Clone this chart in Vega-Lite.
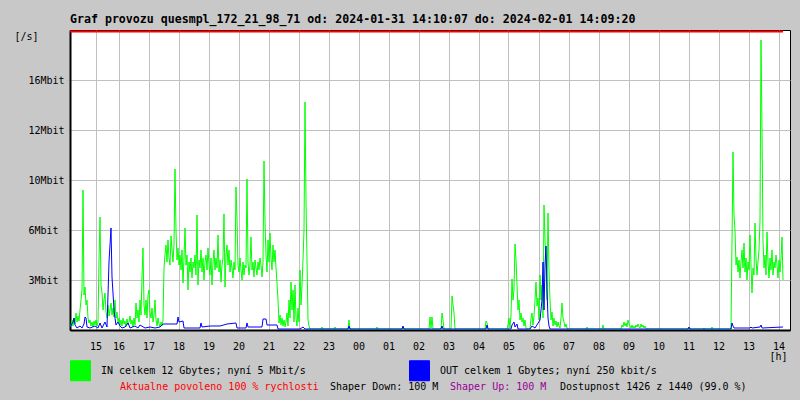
{
"$schema": "https://vega.github.io/schema/vega-lite/v6.json",
"width": 720, "height": 300,
"autosize": {"type": "none"},
"padding": {"left": 70, "top": 30, "right": 10, "bottom": 70},
"background": "#c8c8c8",
"config": {
  "view": {"fill": "white", "stroke": "black", "strokeWidth": 1},
  "font": "DejaVu Sans Mono",
  "axis": {"labelFont": "DejaVu Sans Mono", "labelFontSize": 10, "labelColor": "black", "titleFont": "DejaVu Sans Mono", "titleFontSize": 10, "titleFontWeight": "normal", "titleColor": "black", "gridColor": "#c0c0c0", "gridOpacity": 1, "gridWidth": 1, "domainColor": "black", "domainWidth": 2},
  "axisX": {"labelOverlap": false, "labelFlush": false, "ticks": false, "labelPadding": 11, "tickCount": 100},
  "axisY": {"labelOverlap": false, "tickSize": 4, "tickColor": "#c0c0c0", "labelAlign": "left", "labelPadding": 38, "tickCount": 100}
},
"title": {"text": "Graf provozu quesmpl_172_21_98_71 od: 2024-01-31 14:10:07 do: 2024-02-01 14:09:20", "anchor": "start", "frame": "group", "font": "DejaVu Sans Mono", "fontSize": 11.6, "fontWeight": "bold", "color": "black", "offset": 7, "dy": 12, "baseline": "alphabetic"},
"datasets": {
"inb": [
{"t":23,"v":192},{"t":25,"v":320},{"t":27,"v":640},{"t":29,"v":256},{"t":31,"v":768},{"t":33,"v":384},{"t":35,"v":1088},{"t":37,"v":512},{"t":39,"v":896},{"t":41,"v":576},{"t":43,"v":1280},{"t":45,"v":1920},{"t":47,"v":2560},{"t":49,"v":8960},{"t":51,"v":2240},{"t":53,"v":2752},{"t":55,"v":1600},{"t":57,"v":1920},{"t":59,"v":768},{"t":61,"v":448},{"t":63,"v":640},{"t":65,"v":256},{"t":67,"v":512},{"t":69,"v":192},{"t":71,"v":576},{"t":73,"v":320},{"t":75,"v":640},{"t":77,"v":256},{"t":79,"v":512},{"t":81,"v":4480},{"t":83,"v":7232},{"t":85,"v":2880},{"t":87,"v":2368},{"t":89,"v":1280},{"t":91,"v":1920},{"t":93,"v":2368},{"t":95,"v":1152},{"t":97,"v":768},{"t":99,"v":1600},{"t":101,"v":896},{"t":103,"v":1280},{"t":105,"v":1728},{"t":107,"v":960},{"t":109,"v":1408},{"t":111,"v":832},{"t":113,"v":1920},{"t":115,"v":768},{"t":117,"v":1152},{"t":119,"v":512},{"t":121,"v":768},{"t":123,"v":320},{"t":125,"v":640},{"t":127,"v":256},{"t":129,"v":768},{"t":131,"v":384},{"t":133,"v":576},{"t":135,"v":192},{"t":137,"v":704},{"t":139,"v":320},{"t":141,"v":512},{"t":143,"v":896},{"t":145,"v":384},{"t":147,"v":640},{"t":149,"v":192},{"t":151,"v":768},{"t":153,"v":320},{"t":155,"v":1728},{"t":157,"v":768},{"t":159,"v":1280},{"t":161,"v":512},{"t":163,"v":1920},{"t":165,"v":960},{"t":167,"v":3392},{"t":169,"v":5248},{"t":171,"v":1600},{"t":173,"v":960},{"t":175,"v":1920},{"t":177,"v":768},{"t":179,"v":2240},{"t":181,"v":2560},{"t":183,"v":1152},{"t":185,"v":768},{"t":187,"v":1408},{"t":189,"v":512},{"t":191,"v":960},{"t":193,"v":1920},{"t":195,"v":640},{"t":197,"v":256},{"t":199,"v":768},{"t":201,"v":384},{"t":203,"v":192},{"t":205,"v":512},{"t":207,"v":256},{"t":209,"v":640},
{"t":211,"v":3968},{"t":213,"v":4800},{"t":215,"v":5440},{"t":217,"v":4352},{"t":219,"v":5760},{"t":221,"v":4608},{"t":223,"v":4160},{"t":225,"v":6016},{"t":227,"v":5120},{"t":229,"v":4352},{"t":231,"v":5440},{"t":233,"v":10304},{"t":235,"v":6400},{"t":237,"v":4480},{"t":239,"v":5248},{"t":241,"v":4160},{"t":243,"v":4800},{"t":245,"v":3840},{"t":247,"v":5120},{"t":249,"v":3008},{"t":251,"v":4608},{"t":253,"v":6528},{"t":255,"v":4160},{"t":257,"v":4800},{"t":259,"v":2560},{"t":261,"v":4352},{"t":263,"v":3712},{"t":265,"v":4608},{"t":267,"v":3328},{"t":269,"v":4352},{"t":271,"v":3968},{"t":273,"v":4800},{"t":275,"v":3520},{"t":277,"v":7360},{"t":279,"v":2880},{"t":281,"v":4480},{"t":283,"v":3968},{"t":285,"v":5120},{"t":287,"v":3712},{"t":289,"v":4608},{"t":291,"v":3200},{"t":293,"v":4352},{"t":295,"v":4800},{"t":297,"v":3840},{"t":299,"v":5248},{"t":301,"v":4160},{"t":303,"v":3520},{"t":305,"v":4608},{"t":307,"v":2880},{"t":309,"v":4352},{"t":311,"v":5120},{"t":313,"v":3840},{"t":315,"v":4608},{"t":317,"v":3968},{"t":319,"v":6080},{"t":321,"v":3712},{"t":323,"v":4480},{"t":325,"v":3072},{"t":327,"v":4160},{"t":329,"v":4608},{"t":331,"v":7424},{"t":333,"v":2752},{"t":335,"v":4800},{"t":337,"v":5440},{"t":339,"v":4160},{"t":341,"v":5120},{"t":343,"v":3712},{"t":345,"v":4480},{"t":347,"v":3968},{"t":349,"v":3328},{"t":351,"v":4352},{"t":353,"v":3840},{"t":355,"v":9152},{"t":357,"v":7104},{"t":359,"v":4160},{"t":361,"v":3712},{"t":363,"v":4608},{"t":365,"v":3840},{"t":367,"v":3200},{"t":369,"v":4352},{"t":371,"v":3520},{"t":373,"v":4160},{"t":375,"v":3968},{"t":377,"v":9664},{"t":379,"v":4352},{"t":381,"v":3520},{"t":383,"v":4160},{"t":385,"v":5952},{"t":387,"v":3840},{"t":389,"v":4352},{"t":391,"v":3392},{"t":393,"v":4480},{"t":395,"v":3968},{"t":397,"v":3520},{"t":399,"v":4352},{"t":401,"v":3840},{"t":403,"v":4608},{"t":405,"v":4160},{"t":407,"v":3392},{"t":409,"v":4352},{"t":411,"v":10816},{"t":413,"v":6912},{"t":415,"v":4800},{"t":417,"v":3712},{"t":419,"v":5760},{"t":421,"v":4352},{"t":423,"v":6208},{"t":425,"v":4608},{"t":427,"v":3840},{"t":429,"v":5440},{"t":431,"v":4352},{"t":433,"v":5120},{"t":435,"v":3968},{"t":437,"v":3008},{"t":439,"v":1920},
{"t":441,"v":448},{"t":443,"v":960},{"t":445,"v":320},{"t":447,"v":768},{"t":449,"v":256},{"t":451,"v":640},{"t":453,"v":192},{"t":455,"v":512},{"t":457,"v":1088},{"t":459,"v":256},{"t":461,"v":1920},{"t":463,"v":768},{"t":465,"v":3072},{"t":467,"v":1280},{"t":469,"v":2560},{"t":471,"v":512},{"t":473,"v":2880},{"t":475,"v":768},{"t":477,"v":256},{"t":479,"v":1408},{"t":481,"v":512},{"t":483,"v":3840},{"t":485,"v":1600},{"t":487,"v":2880},{"t":489,"v":4480},{"t":491,"v":6400},{"t":493,"v":14592},{"t":495,"v":8320},{"t":497,"v":4480},{"t":499,"v":640},{"t":501,"v":256},{"t":503,"v":64},
{"t":525,"v":64},{"t":527,"v":192},{"t":529,"v":64},{"t":551,"v":64},{"t":553,"v":192},{"t":555,"v":64},{"t":579,"v":64},{"t":581,"v":640},{"t":583,"v":64},{"t":635,"v":64},{"t":637,"v":192},{"t":639,"v":64},{"t":687,"v":64},{"t":689,"v":192},{"t":691,"v":64},{"t":741,"v":64},{"t":743,"v":832},{"t":745,"v":128},{"t":747,"v":832},{"t":749,"v":64},{"t":765,"v":64},{"t":767,"v":1088},{"t":769,"v":640},{"t":771,"v":64},{"t":785,"v":64},{"t":787,"v":2176},{"t":789,"v":1600},{"t":791,"v":1088},{"t":793,"v":64},{"t":853,"v":64},{"t":855,"v":576},{"t":857,"v":448},{"t":859,"v":64},
{"t":897,"v":64},{"t":899,"v":320},{"t":901,"v":768},{"t":903,"v":128},{"t":905,"v":960},{"t":907,"v":3264},{"t":909,"v":1920},{"t":911,"v":2560},{"t":913,"v":5504},{"t":915,"v":4480},{"t":917,"v":2880},{"t":919,"v":1280},{"t":921,"v":1920},{"t":923,"v":640},{"t":925,"v":1088},{"t":927,"v":512},{"t":929,"v":768},{"t":931,"v":256},{"t":933,"v":640},{"t":935,"v":128},{"t":937,"v":64},{"t":943,"v":64},{"t":945,"v":768},{"t":947,"v":1088},{"t":949,"v":320},{"t":951,"v":896},{"t":953,"v":1920},{"t":955,"v":3072},{"t":957,"v":1536},{"t":959,"v":2048},{"t":961,"v":640},{"t":963,"v":3520},{"t":965,"v":1920},{"t":967,"v":2880},{"t":969,"v":768},{"t":971,"v":8000},{"t":973,"v":5760},{"t":975,"v":4352},{"t":977,"v":1920},{"t":979,"v":7488},{"t":981,"v":3840},{"t":983,"v":1920},{"t":985,"v":640},{"t":987,"v":1152},{"t":989,"v":256},{"t":991,"v":768},{"t":993,"v":320},{"t":995,"v":576},{"t":997,"v":192},{"t":999,"v":512},{"t":1001,"v":256},{"t":1003,"v":128},{"t":1005,"v":768},{"t":1007,"v":1728},{"t":1009,"v":768},{"t":1011,"v":512},{"t":1013,"v":192},{"t":1015,"v":384},{"t":1017,"v":128},{"t":1019,"v":64},
{"t":1055,"v":64},{"t":1057,"v":192},{"t":1059,"v":64},{"t":1087,"v":64},{"t":1089,"v":320},{"t":1091,"v":64},{"t":1125,"v":64},{"t":1127,"v":320},{"t":1129,"v":192},{"t":1131,"v":512},{"t":1133,"v":256},{"t":1135,"v":448},{"t":1137,"v":192},{"t":1139,"v":640},{"t":1141,"v":384},{"t":1143,"v":256},{"t":1145,"v":128},{"t":1147,"v":320},{"t":1149,"v":128},{"t":1151,"v":256},{"t":1153,"v":128},{"t":1155,"v":320},{"t":1157,"v":192},{"t":1159,"v":384},{"t":1161,"v":192},{"t":1163,"v":128},{"t":1165,"v":384},{"t":1167,"v":192},{"t":1169,"v":320},{"t":1171,"v":128},{"t":1173,"v":256},{"t":1175,"v":128},{"t":1177,"v":64},{"t":1259,"v":64},{"t":1261,"v":192},{"t":1263,"v":64},{"t":1289,"v":64},{"t":1291,"v":128},{"t":1293,"v":64},{"t":1305,"v":64},{"t":1307,"v":192},{"t":1309,"v":64},{"t":1345,"v":64},
{"t":1347,"v":5632},{"t":1349,"v":11392},{"t":1351,"v":7360},{"t":1353,"v":6400},{"t":1355,"v":4160},{"t":1357,"v":4672},{"t":1359,"v":3712},{"t":1361,"v":4480},{"t":1363,"v":3328},{"t":1365,"v":4352},{"t":1367,"v":5120},{"t":1369,"v":3968},{"t":1371,"v":5568},{"t":1373,"v":3712},{"t":1375,"v":4608},{"t":1377,"v":3200},{"t":1379,"v":4352},{"t":1381,"v":3840},{"t":1383,"v":6080},{"t":1385,"v":4160},{"t":1387,"v":2368},{"t":1389,"v":3968},{"t":1391,"v":3520},{"t":1393,"v":6848},{"t":1395,"v":4608},{"t":1397,"v":3520},{"t":1399,"v":4352},{"t":1401,"v":5120},{"t":1403,"v":7040},{"t":1405,"v":18560},{"t":1407,"v":12800},{"t":1409,"v":5760},{"t":1411,"v":3968},{"t":1413,"v":4800},{"t":1415,"v":3520},{"t":1417,"v":6272},{"t":1419,"v":4352},{"t":1421,"v":3328},{"t":1423,"v":4608},{"t":1425,"v":3840},{"t":1427,"v":5120},{"t":1429,"v":3520},{"t":1431,"v":4352},{"t":1433,"v":3968},{"t":1435,"v":4800},{"t":1437,"v":4160},{"t":1439,"v":3328},{"t":1441,"v":4480},{"t":1443,"v":3712},{"t":1445,"v":4608},{"t":1447,"v":5952},{"t":1449,"v":3200}
],
"outb": [
{"t":23,"v":192},{"t":29,"v":512},{"t":31,"v":768},{"t":33,"v":320},{"t":37,"v":128},{"t":43,"v":256},{"t":47,"v":128},{"t":51,"v":384},{"t":53,"v":832},{"t":55,"v":768},{"t":57,"v":192},{"t":63,"v":128},{"t":73,"v":256},{"t":79,"v":128},{"t":83,"v":448},{"t":87,"v":128},{"t":93,"v":512},{"t":97,"v":192},{"t":101,"v":4352},{"t":103,"v":5440},{"t":105,"v":6528},{"t":107,"v":3392},{"t":109,"v":2368},{"t":111,"v":1280},{"t":113,"v":768},{"t":115,"v":320},{"t":119,"v":512},{"t":123,"v":256},{"t":127,"v":128},{"t":133,"v":192},{"t":139,"v":448},{"t":143,"v":128},{"t":153,"v":256},{"t":159,"v":128},{"t":163,"v":320},{"t":173,"v":128},{"t":183,"v":192},{"t":193,"v":128},{"t":203,"v":192},{"t":209,"v":384},{"t":237,"v":384},{"t":239,"v":832},{"t":241,"v":512},{"t":249,"v":576},{"t":251,"v":128},{"t":283,"v":128},{"t":285,"v":448},{"t":287,"v":192},{"t":303,"v":256},{"t":323,"v":256},{"t":337,"v":384},{"t":355,"v":448},{"t":357,"v":128},{"t":375,"v":128},{"t":377,"v":448},{"t":379,"v":192},{"t":407,"v":192},{"t":409,"v":704},{"t":415,"v":704},{"t":417,"v":320},{"t":437,"v":320},{"t":439,"v":64},{"t":483,"v":64},{"t":489,"v":192},{"t":493,"v":64},{"t":579,"v":64},{"t":581,"v":256},{"t":583,"v":64},{"t":687,"v":64},{"t":689,"v":256},{"t":691,"v":64},{"t":765,"v":64},{"t":767,"v":256},{"t":769,"v":64},{"t":855,"v":64},{"t":857,"v":320},{"t":859,"v":64},{"t":905,"v":64},{"t":907,"v":320},{"t":911,"v":512},{"t":913,"v":192},{"t":917,"v":384},{"t":919,"v":64},{"t":943,"v":64},{"t":947,"v":256},{"t":953,"v":128},{"t":963,"v":640},{"t":967,"v":1920},{"t":969,"v":4352},{"t":971,"v":1280},{"t":973,"v":4160},{"t":975,"v":5376},{"t":977,"v":2560},{"t":979,"v":768},{"t":981,"v":256},{"t":983,"v":64},{"t":1259,"v":64},{"t":1261,"v":192},{"t":1263,"v":64},{"t":1345,"v":64},{"t":1347,"v":448},{"t":1349,"v":256},{"t":1351,"v":128},{"t":1383,"v":128},{"t":1385,"v":192},{"t":1387,"v":128},{"t":1403,"v":192},{"t":1405,"v":320},{"t":1407,"v":128},{"t":1449,"v":192}
],
"notes": [
{"label": "Aktualne povoleno 100 % rychlosti"}
]
},
"layer": [
  {"data": {"name": "inb"}, "mark": {"type": "line", "strokeWidth": 1, "interpolate": "linear"},
   "encoding": {
    "x": {"field": "t", "type": "quantitative", "scale": {"domain": [23, 1463], "nice": false, "zero": false},
        "axis": {"values": [74,120,180,240,300,360,420,480,540,600,660,720,780,840,900,960,1020,1080,1140,1200,1260,1320,1380,1440],
                 "tickCount": 100,
                 "labelExpr": "((floor(datum.value/60)+14)%24 < 10 ? '0' : '') + ((floor(datum.value/60)+14)%24)",
                 "title": "[h]", "titleX": 708, "titleY": 26, "titleAlign": "center", "titleBaseline": "middle"}},
    "y": {"field": "v", "type": "quantitative", "scale": {"domain": [0, 19200], "nice": false, "zero": true},
        "axis": {"values": [3200, 6400, 9600, 12800, 16000],
                 "labelExpr": "datum.value == 3200 ? '3Mbit' : datum.value == 6400 ? '6Mbit' : datum.value == 9600 ? '10Mbit' : datum.value == 12800 ? '12Mbit' : '16Mbit'",
                 "title": "[/s]", "titleAngle": 0, "titleX": -44, "titleY": 6, "titleAlign": "center", "titleBaseline": "middle"}},
    "color": {"datum": "IN", "type": "nominal",
      "scale": {"domain": ["IN", "OUT"], "range": ["#00ff00", "#0000ff"]},
      "legend": {"orient": "none", "legendX": 0, "legendY": 330, "direction": "horizontal", "title": null, "padding": 0,
                 "symbolType": "square", "symbolSize": 400, "labelFont": "DejaVu Sans Mono", "labelFontSize": 10, "labelColor": "black",
                 "labelOffset": 10, "labelLimit": 400, "columnPadding": 101,
                 "labelExpr": "datum.value == 'IN' ? 'IN celkem 12 Gbytes; nyní 5 Mbit/s' : 'OUT celkem 1 Gbytes; nyní 250 kbit/s'",
                 "encode": {"symbols": {"update": {"fill": {"scale": "color", "field": "value"}, "fillOpacity": {"value": 1}, "opacity": {"value": 1}, "stroke": {"value": "black"}, "strokeWidth": {"value": 1}}}}}}}},
  {"data": {"name": "outb"}, "mark": {"type": "line", "strokeWidth": 1, "interpolate": "linear"},
   "encoding": {"x": {"field": "t", "type": "quantitative"}, "y": {"field": "v", "type": "quantitative"}, "color": {"datum": "OUT", "type": "nominal"}}},
  {"data": {"name": "notes"}, "mark": {"type": "rule", "color": "#ff0000", "strokeWidth": 2},
   "encoding": {"x": {"datum": 23, "type": "quantitative"}, "x2": {"datum": 1449}, "y": {"datum": 19100, "type": "quantitative"}}},
  {"data": {"name": "notes"}, "mark": {"type": "text", "font": "DejaVu Sans Mono", "fontSize": 10, "align": "left", "baseline": "middle", "color": "#ff0000"},
   "encoding": {"text": {"field": "label"}, "x": {"datum": 123, "type": "quantitative"}, "y": {"datum": -3648, "type": "quantitative"}}},
  {"data": {"name": "notes"}, "mark": {"type": "text", "text": "Shaper Down: 100 M", "font": "DejaVu Sans Mono", "fontSize": 10, "align": "left", "baseline": "middle", "color": "black"},
   "encoding": {"x": {"datum": 543, "type": "quantitative"}, "y": {"datum": -3648, "type": "quantitative"}}},
  {"data": {"name": "notes"}, "mark": {"type": "text", "text": "Shaper Up: 100 M", "font": "DejaVu Sans Mono", "fontSize": 10, "align": "left", "baseline": "middle", "color": "#990099"},
   "encoding": {"x": {"datum": 783, "type": "quantitative"}, "y": {"datum": -3648, "type": "quantitative"}}},
  {"data": {"name": "notes"}, "mark": {"type": "text", "text": "Dostupnost 1426 z 1440 (99.0 %)", "font": "DejaVu Sans Mono", "fontSize": 10, "align": "left", "baseline": "middle", "color": "black"},
   "encoding": {"x": {"datum": 1003, "type": "quantitative"}, "y": {"datum": -3648, "type": "quantitative"}}}
]
}
